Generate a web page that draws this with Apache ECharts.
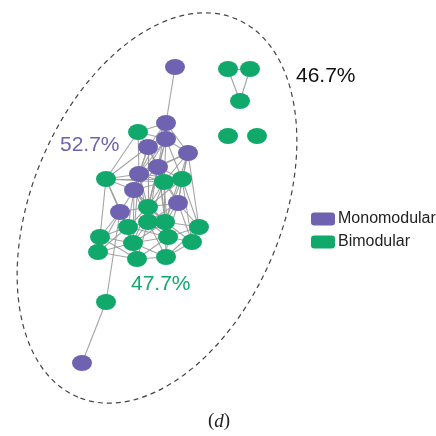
<html>
<head>
<meta charset="utf-8">
<script src="https://cdn.jsdelivr.net/npm/echarts@6/dist/echarts.min.js"></script>
<style>
  html, body { margin: 0; padding: 0; background: #fff; }
  #main { width: 436px; height: 436px; }
</style>
</head>
<body>
<div id="main"></div>
<script>
// node positions (x right, y down)
var categories = ['Monomodular', 'Bimodular'];
var monoNodes = [
  [175, 67], [166, 123], [166, 139], [148, 147], [188, 153], [158, 167],
  [139, 174], [134, 190], [120, 212], [178, 203], [82, 363]
];
var biNodes = [
  [138, 132], [106, 179], [164, 182], [182, 179], [148, 207], [148, 222],
  [165, 222], [128, 227], [199, 227], [100, 237], [168, 237], [133, 243],
  [192, 242], [98, 252], [137, 259], [166, 257], [106, 302],
  [228, 69], [250, 69], [240, 101], [228, 136], [257, 136]
];
var edges = [
  ['M0','M1'],
  ['M1','B0'],['M1','M2'],['M1','M3'],['M1','M4'],['M1','M5'],['M1','M6'],
  ['M2','M3'],['M2','M4'],['M2','M5'],['M2','M6'],['M2','B2'],['M2','B3'],['M2','M7'],['M2','B4'],
  ['M3','B0'],['M3','M5'],['M3','M6'],['M3','B1'],['M3','B2'],['M3','M7'],['M3','B4'],['M3','B5'],
  ['M4','M5'],['M4','B3'],['M4','M9'],['M4','B2'],['M4','B8'],['M4','B6'],['M4','M6'],
  ['M5','M6'],['M5','B2'],['M5','B3'],['M5','M9'],['M5','B4'],['M5','M7'],['M5','B5'],['M5','B6'],['M5','B10'],
  ['M6','B1'],['M6','M7'],['M6','B2'],['M6','B4'],['M6','B0'],['M6','B3'],['M6','B5'],['M6','B11'],
  ['M7','M8'],['M7','B4'],['M7','B5'],['M7','B1'],['M7','B7'],['M7','B6'],['M7','B2'],['M7','B11'],['M7','B10'],
  ['M8','B1'],['M8','B9'],['M8','B7'],['M8','B13'],['M8','B16'],['M8','B11'],['M8','B4'],['M8','B14'],
  ['M9','B3'],['M9','B6'],['M9','B8'],['M9','B10'],['M9','B2'],['M9','B4'],['M9','B5'],['M9','B12'],
  ['B0','M2'],['B0','B1'],
  ['B1','B9'],['B1','B3'],['B1','B2'],['B1','B7'],
  ['B2','B3'],['B2','B4'],['B2','B6'],['B2','B10'],['B2','B5'],
  ['B3','B8'],['B3','B6'],['B3','B4'],['B3','B12'],
  ['B4','B5'],['B4','B6'],['B4','B7'],['B4','B11'],['B4','B10'],
  ['B5','B6'],['B5','B7'],['B5','B11'],['B5','B10'],['B5','B14'],['B5','B15'],
  ['B6','B10'],['B6','B12'],['B6','B15'],['B6','B8'],['B6','B11'],
  ['B7','B9'],['B7','B11'],['B7','B13'],['B7','B14'],['B7','B10'],
  ['B8','B12'],['B8','B10'],['B8','B15'],
  ['B9','B13'],['B9','B11'],['B9','B14'],
  ['B10','B12'],['B10','B15'],['B10','B11'],['B10','B14'],
  ['B11','B13'],['B11','B14'],['B11','B15'],
  ['B12','B15'],['B13','B14'],['B14','B15'],
  ['B16','M10'],
  ['B17','B18'],['B17','B19'],['B18','B19']
];
var shareLabels = ['52.7%', '47.7%', '46.7%'];

var purple = '#6f62b1';
var green = '#11a86c';

var nodes = [];
monoNodes.forEach(function (p, i) {
  nodes.push({ name: 'M' + i, value: p, category: 0 });
});
biNodes.forEach(function (p, i) {
  nodes.push({ name: 'B' + i, value: p, category: 1 });
});
var links = edges.map(function (e) { return { source: e[0], target: e[1] }; });

var chart = echarts.init(document.getElementById('main'));
var option = {
  animation: false,
  color: [purple, green],
  grid: { left: 0, top: 0, width: 436, height: 436 },
  xAxis: { type: 'value', min: 0, max: 436, show: false },
  yAxis: { type: 'value', min: 0, max: 436, inverse: true, show: false },
  legend: {
    data: categories,
    orient: 'vertical',
    left: 306,
    top: 206,
    itemWidth: 24,
    itemHeight: 13,
    itemGap: 7,
    icon: 'roundRect',
    textStyle: { fontFamily: 'Liberation Sans, Arial', fontSize: 16, color: '#222', padding: [0, 0, 0, -2] }
  },
  graphic: [
    {
      type: 'ellipse',
      x: 157, y: 208,
      rotation: 67.3 * Math.PI / 180,
      shape: { cx: 0, cy: 0, rx: 205, ry: 125 },
      style: { fill: 'none', stroke: '#444', lineWidth: 1.2, lineDash: [5, 4] },
      silent: true, z: -1
    },
    {
      type: 'text', left: 60, top: 135,
      style: { text: shareLabels[0], fill: purple, font: '21px "Liberation Sans", Arial' }
    },
    {
      type: 'text', left: 131, top: 274,
      style: { text: shareLabels[1], fill: green, font: '21px "Liberation Sans", Arial' }
    },
    {
      type: 'text', left: 296, top: 66,
      style: { text: shareLabels[2], fill: '#111', font: '21px "Liberation Sans", Arial' }
    },
    {
      type: 'text', left: 208, top: 412,
      style: {
        text: '{a|(}{b|d}{a|)}',
        rich: {
          a: { fontFamily: 'Liberation Serif', fontSize: 19, fill: '#222' },
          b: { fontFamily: 'Liberation Serif', fontSize: 19, fontStyle: 'italic', fill: '#222' }
        }
      }
    }
  ],
  series: [{
    type: 'graph',
    coordinateSystem: 'cartesian2d',
    layout: 'none',
    symbol: 'circle',
    symbolSize: [20, 16],
    categories: categories.map(function (c) { return { name: c }; }),
    data: nodes,
    links: links,
    lineStyle: { color: '#9a9a9a', width: 1.1, opacity: 0.9, curveness: 0 },
    label: { show: false },
    emphasis: { disabled: true }
  }]
};
chart.setOption(option);
</script>
</body>
</html>
